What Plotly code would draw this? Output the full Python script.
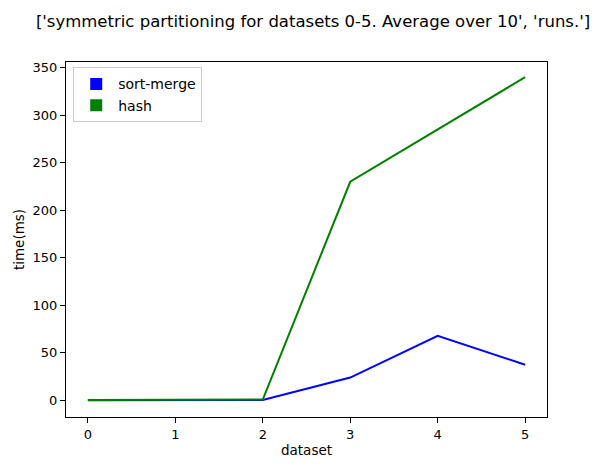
import plotly.graph_objects as go

datasets = [0, 1, 2, 3, 4, 5]
sort_merge = [0.2, 0.2, 0.3, 24, 68, 37.5]
hash_times = [0.5, 0.5, 0.8, 230, 285, 340]
y_ticks = [0, 50, 100, 150, 200, 250, 300, 350]
title_text = "['symmetric partitioning for datasets 0-5. Average over 10', 'runs.']"

fig = go.Figure()
fig.add_trace(go.Scatter(x=datasets, y=sort_merge, mode="lines",
                         line=dict(color="blue", width=2), showlegend=False))
fig.add_trace(go.Scatter(x=datasets, y=hash_times, mode="lines",
                         line=dict(color="green", width=2), showlegend=False))
# legend patches
fig.add_trace(go.Bar(x=[None], y=[None], name="sort-merge", marker=dict(color="blue", line=dict(width=0))))
fig.add_trace(go.Bar(x=[None], y=[None], name="hash", marker=dict(color="green", line=dict(width=0))))

font = "DejaVu Sans"
W, H = 594, 461  # page body has an 8px margin
fig.update_layout(
    width=W, height=H,
    margin=dict(l=58, r=55, t=54, b=52, autoexpand=False),
    plot_bgcolor="white", paper_bgcolor="white",
    font=dict(family=font, size=13, color="black"),
    title=dict(text=title_text, x=0.5135, xanchor="center", y=1 - 13 / H, yanchor="middle",
               yref="container", font=dict(size=16.5, family=font)),
    xaxis=dict(range=[-0.25, 5.25], tickmode="array", tickvals=datasets,
               showgrid=False, zeroline=False, showline=True, mirror=True,
               linecolor="black", linewidth=1, ticks="outside", ticklen=5, tickcolor="black",
               automargin=False,
               title=dict(text="dataset", font=dict(size=13.5), standoff=4)),
    yaxis=dict(range=[-17.5, 356], tickmode="array", tickvals=y_ticks,
               showgrid=False, zeroline=False, showline=True, mirror=True,
               linecolor="black", linewidth=1, ticks="outside", ticklen=5, tickcolor="black",
               automargin=False,
               title=dict(text="time(ms)", font=dict(size=13.5), standoff=4)),
    legend=dict(x=0.015, y=0.985, xanchor="left", yanchor="top", bgcolor="white",
                bordercolor="#cccccc", borderwidth=1, font=dict(size=14),
                itemwidth=34),
    showlegend=True,
)

fig.write_html("out.html")
